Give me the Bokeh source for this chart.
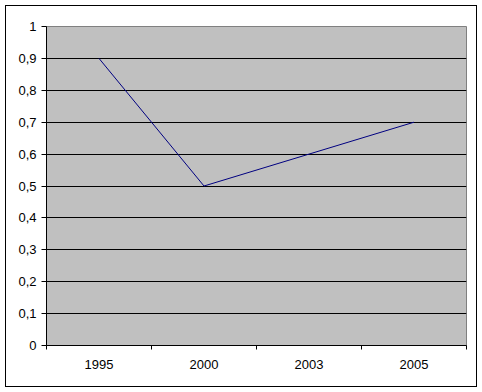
from bokeh.plotting import figure
from bokeh.models import FixedTicker, Range1d
from bokeh.layouts import column
from bokeh.embed import file_html
from bokeh.resources import INLINE

years = ["1995", "2000", "2003", "2005"]
values = [0.9, 0.5, 0.6, 0.7]
y_ticks = [0, 0.1, 0.2, 0.3, 0.4, 0.5, 0.6, 0.7, 0.8, 0.9, 1]
y_tick_labels = ["0", "0,1", "0,2", "0,3", "0,4", "0,5", "0,6", "0,7", "0,8", "0,9", "1"]

xs = [i + 0.5 for i in range(len(years))]

fig = figure(width=470, height=380, output_backend="svg", toolbar_location=None,
             x_range=Range1d(0, len(years)), y_range=Range1d(0, 1),
             min_border_left=40, min_border_right=10, min_border_top=20, min_border_bottom=41)
fig.background_fill_color = "#C0C0C0"
fig.border_fill_color = "white"
fig.outline_line_color = "#808080"
fig.outline_line_width = 1

fig.line(xs, values, line_color="#000080", line_width=1)

FONT = "Liberation Sans"

# x axis
fig.xaxis.ticker = FixedTicker(ticks=xs, minor_ticks=list(range(len(years) + 1)))
fig.xaxis.major_label_overrides = {x: y for x, y in zip(xs, years)}
fig.xaxis.major_tick_out = 0
fig.xaxis.major_tick_in = 0
fig.xaxis.minor_tick_out = 4
fig.xaxis.minor_tick_in = 0
fig.xaxis.minor_tick_line_color = "black"
fig.xaxis.axis_line_color = "black"
fig.xaxis.major_label_standoff = 10
fig.xaxis.major_label_text_font = FONT
fig.xaxis.major_label_text_font_size = "13px"
fig.xaxis.major_label_text_color = "black"
fig.xgrid.grid_line_color = None

# y axis
fig.yaxis.ticker = FixedTicker(ticks=y_ticks, minor_ticks=[])
fig.yaxis.major_label_overrides = {t: l for t, l in zip(y_ticks, y_tick_labels)}
fig.yaxis.major_tick_out = 5
fig.yaxis.major_tick_in = 0
fig.yaxis.major_tick_line_color = "black"
fig.yaxis.axis_line_color = "black"
fig.yaxis.major_label_standoff = 5
fig.yaxis.major_label_text_font = FONT
fig.yaxis.major_label_text_font_size = "13px"
fig.yaxis.major_label_text_color = "black"
fig.ygrid.grid_line_color = "black"
fig.ygrid.grid_line_alpha = 1

# outer chart border
p = column(fig, margin=(5, 5, 5, 5), styles={"border": "1px solid black"})

open("out.html", "w").write(file_html(p, INLINE))
